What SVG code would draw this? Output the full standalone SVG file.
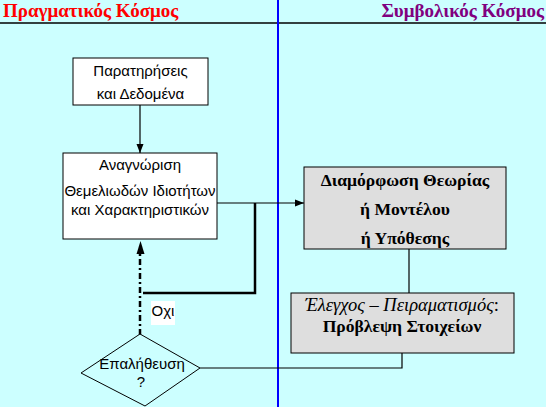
<svg xmlns="http://www.w3.org/2000/svg" width="546" height="407" viewBox="0 0 546 407">
<defs>
<marker id="ah" markerUnits="userSpaceOnUse" markerWidth="10" markerHeight="8" refX="9" refY="4" orient="auto">
<path d="M0,0.5 L9,4 L0,7.5 Z" fill="#000"/>
</marker>
</defs>
<style>
.t{font-family:"Liberation Sans",Arial,sans-serif;font-size:15px;fill:#000;text-anchor:middle}
.b{font-family:"Liberation Serif","Times New Roman",serif;font-size:17.6px;font-weight:bold;fill:#000;text-anchor:middle}
.i{font-family:"Liberation Serif","Times New Roman",serif;font-size:18.5px;font-style:italic;fill:#000;text-anchor:middle}
.h{font-family:"Liberation Serif","Times New Roman",serif;font-size:19px;font-weight:bold}
.box{fill:#fff;stroke:#000;stroke-width:1}
.gbox{fill:#DEDEDE;stroke:#000;stroke-width:1}
.c{fill:none;stroke:#000;stroke-width:1.2}
.k{fill:none;stroke:#000;stroke-width:2.5}
</style>
<rect x="0" y="0" width="546" height="407" fill="#CCFFFF"/>
<g id="header">
<line x1="0" y1="23" x2="546" y2="23" stroke="#000" stroke-width="1.5"/>
<line x1="278" y1="0" x2="278" y2="407" stroke="#0000FF" stroke-width="2"/>
<text class="h" x="3" y="17" fill="#FF0000">Πραγματικός Κόσμος</text>
<text class="h" x="544" y="17" fill="#800080" text-anchor="end">Συμβολικός Κόσμος</text>
</g>
<g id="connectors">
<path class="c" d="M140,105 V153" marker-end="url(#ah)"/>
<path class="c" d="M217,203 H304" marker-end="url(#ah)"/>
<path class="k" d="M255,203 V293 H143"/>
<path class="k" d="M140,335 V250" stroke-dasharray="6 3 2 3"/>
<path d="M136.5,254 L140.5,241 L144.5,254 Z" fill="#000"/>
<path class="c" d="M409,249 V293"/>
<path class="c" d="M200,368 H402 V353"/>
<rect x="151" y="301" width="24" height="24" fill="#fff"/>
<text class="t" x="163" y="316" font-size="14px">Οχι</text>
</g>
<g id="n1">
<rect class="box" x="73" y="58" width="135" height="47"/>
<text class="t" x="140.5" y="76">Παρατηρήσεις</text>
<text class="t" x="140.5" y="99">και Δεδομένα</text>
</g>
<g id="n2">
<rect class="box" x="63" y="153" width="154" height="86"/>
<text class="t" x="140" y="170">Αναγνώριση</text>
<text class="t" x="140" y="196">Θεμελιωδών Ιδιοτήτων</text>
<text class="t" x="140" y="215">και Χαρακτηριστικών</text>
</g>
<g id="n3">
<rect class="gbox" x="304" y="167" width="202" height="82"/>
<text class="b" x="405" y="186">Διαμόρφωση Θεωρίας</text>
<text class="b" x="405" y="215">ή Μοντέλου</text>
<text class="b" x="405" y="244">ή Υπόθεσης</text>
</g>
<g id="n4">
<rect class="gbox" x="291" y="293" width="223" height="60"/>
<text class="i" x="402" y="311">Έλεγχος – Πειραματισμός<tspan font-style="normal">:</tspan></text>
<text class="b" x="402" y="332">Πρόβλεψη Στοιχείων</text>
</g>
<g id="n5">
<path d="M81,373 L140,334 L200,368 L145,406 Z" fill="#CCFFFF" stroke="#000" stroke-width="1"/>
<text class="t" x="142" y="369" font-size="13.5px">Επαλήθευση</text>
<text class="t" x="141" y="387" font-size="13.5px">?</text>
</g>
</svg>
